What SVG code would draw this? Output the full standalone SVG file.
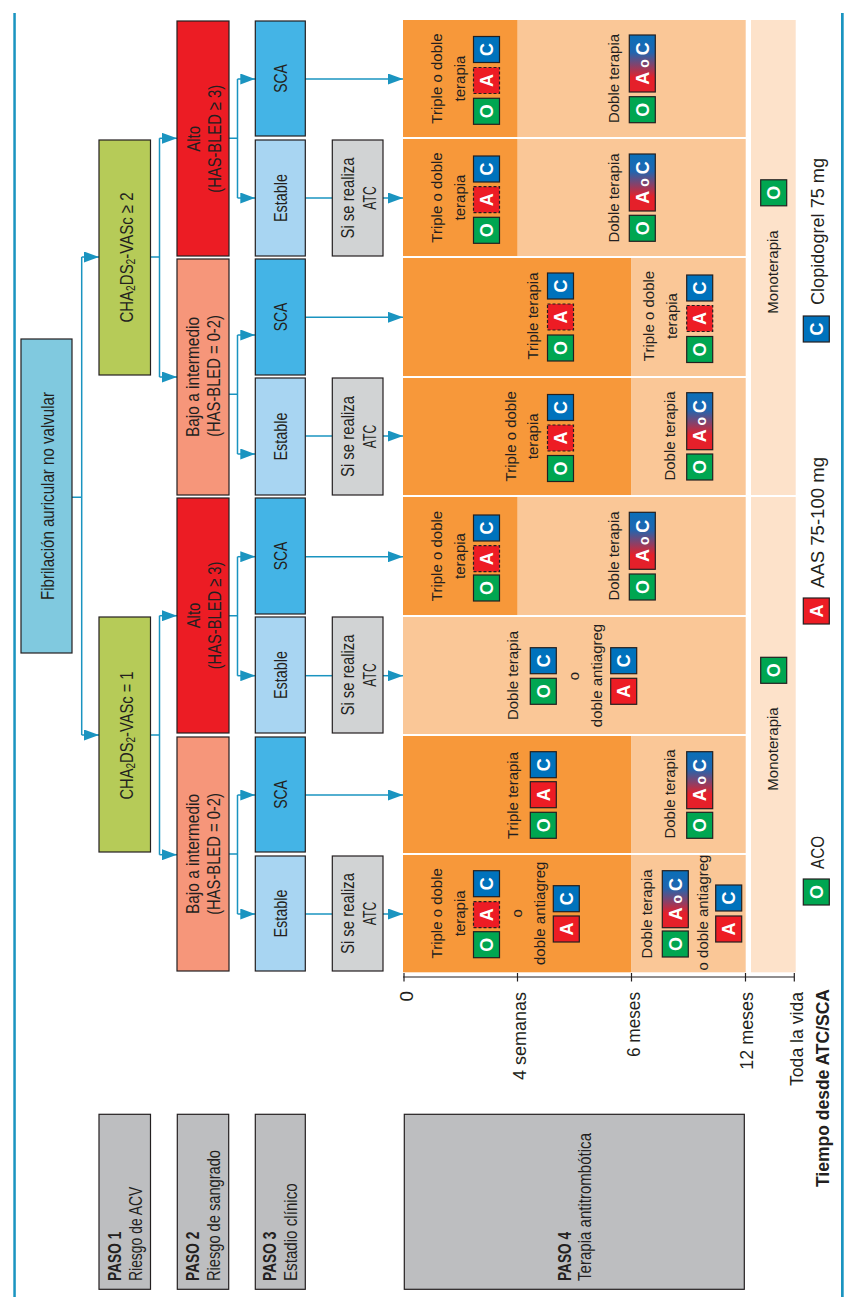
<svg xmlns="http://www.w3.org/2000/svg" width="856" height="1297" viewBox="0 0 856 1297">
<style>
.box{stroke:#231f20;stroke-width:1.2}
.lbl{font-family:"Liberation Sans",Arial,sans-serif;font-size:19px;fill:#231f20}
.m{text-anchor:middle}
.e{text-anchor:end}
.th{font-family:"Liberation Sans",Arial,sans-serif;font-size:15px;fill:#231f20;text-anchor:middle}
.bl{font-family:"Liberation Sans",Arial,sans-serif;font-size:18px;font-weight:bold;fill:#fff;text-anchor:middle}
.con{fill:none;stroke:#1a94c0;stroke-width:1.5}
.arr{marker-end:url(#ah)}
.bO{fill:#00a651;stroke:#231f20;stroke-width:1.2}
.bA{fill:#ed1c24;stroke:#231f20;stroke-width:1.2}
.bAd{fill:#ed1c24;stroke:#231f20;stroke-width:1.2;stroke-dasharray:3 2}
.bC{fill:#0072bc;stroke:#231f20;stroke-width:1.2}
.bAC{fill:url(#gAC);stroke:#231f20;stroke-width:1.2}
.dk{fill:#f7983a}
.lt{fill:#fac797}
.mono{fill:#fde2ca}
.b{font-weight:bold}
</style>
<defs>
<marker id="ah" markerUnits="userSpaceOnUse" markerWidth="15" markerHeight="11" refX="15" refY="5.5" orient="auto"><path d="M0,0 L15,5.5 L0,11 z" fill="#1a94c0"/></marker>
<linearGradient id="gAC" x1="0" y1="0" x2="0" y2="1"><stop offset="0" stop-color="#0a6fb8"/><stop offset="0.3" stop-color="#1f66b0"/><stop offset="0.75" stop-color="#e5202a"/><stop offset="1" stop-color="#e5202a"/></linearGradient>
</defs>
<rect x="0" y="0" width="856" height="1297" fill="#fff"/>
<rect x="13.3" y="13" width="2.5" height="1284" fill="#1a94c0"/>
<rect x="841" y="13" width="2.7" height="1284" fill="#1a94c0"/>

<!-- therapy cells -->
<g id="cells">
<rect class="dk" x="403" y="20" width="114.7" height="117"/><rect class="lt" x="517.7" y="20" width="228" height="117"/>
<rect class="dk" x="403" y="139" width="114.7" height="117"/><rect class="lt" x="517.7" y="139" width="228" height="117"/>
<rect class="dk" x="403" y="258" width="228.5" height="118"/><rect class="lt" x="631.5" y="258" width="114.2" height="118"/>
<rect class="dk" x="403" y="378" width="228.5" height="117"/><rect class="lt" x="631.5" y="378" width="114.2" height="117"/>
<rect class="dk" x="403" y="497" width="114.7" height="118"/><rect class="lt" x="517.7" y="497" width="228" height="118"/>
<rect class="lt" x="403" y="617" width="342.7" height="117"/>
<rect class="dk" x="403" y="736" width="228.5" height="117"/><rect class="lt" x="631.5" y="736" width="114.2" height="117"/>
<rect class="dk" x="403" y="855" width="228.5" height="117.3"/><rect class="lt" x="631.5" y="855" width="114.2" height="117.3"/>
<rect class="mono" x="751" y="20" width="44.7" height="475"/>
<rect class="mono" x="751" y="497" width="44.7" height="475.3"/>
</g>

<!-- connectors -->
<g id="connectors">
<path class="con" d="M72 497.3 H81.7 M81.7 257 V735"/>
<path class="con arr" d="M81.7 257 H99"/>
<path class="con arr" d="M81.7 735 H99"/>
<path class="con" d="M150.5 257 H159.5 M159.5 138.3 V377"/>
<path class="con arr" d="M159.5 138.3 H177"/>
<path class="con arr" d="M159.5 377 H177"/>
<path class="con" d="M150.5 735 H159.5 M159.5 615.7 V854.7"/>
<path class="con arr" d="M159.5 615.7 H177"/>
<path class="con arr" d="M159.5 854.7 H177"/>
<path class="con" d="M229 138.3 H237.5 M237.5 79 V198"/>
<path class="con arr" d="M237.5 79 H255.3"/>
<path class="con arr" d="M237.5 198 H255.3"/>
<path class="con" d="M229 394.3 H237.5 M237.5 335 V454"/>
<path class="con arr" d="M237.5 335 H255.3"/>
<path class="con arr" d="M237.5 454 H255.3"/>
<path class="con" d="M229 615.7 H237.5 M237.5 556.7 V675.7"/>
<path class="con arr" d="M237.5 556.7 H255.3"/>
<path class="con arr" d="M237.5 675.7 H255.3"/>
<path class="con" d="M229 854 H237.5 M237.5 795 V914"/>
<path class="con arr" d="M237.5 795 H255.3"/>
<path class="con arr" d="M237.5 914 H255.3"/>
<path class="con arr" d="M305.3 79 H403"/>
<path class="con" d="M305.3 198 H332.3"/><path class="con arr" d="M383 198 H403"/>
<path class="con arr" d="M305.3 317.3 H403"/>
<path class="con" d="M305.3 436 H332.3"/><path class="con arr" d="M383 436 H403"/>
<path class="con arr" d="M305.3 556.7 H403"/>
<path class="con" d="M305.3 675.7 H332.3"/><path class="con arr" d="M383 675.7 H403"/>
<path class="con arr" d="M305.3 795 H403"/>
<path class="con" d="M305.3 914 H332.3"/><path class="con arr" d="M383 914 H403"/>
</g>

<!-- decision nodes -->
<g id="fib"><rect class="box" x="21" y="339" width="51" height="314" fill="#80c9df"/>
<text class="lbl m" transform="translate(53.5 496) rotate(-90)" textLength="208" lengthAdjust="spacingAndGlyphs">Fibrilación auricular no valvular</text></g>

<g id="cha2"><rect class="box" x="99" y="140" width="51.5" height="235" fill="#b6cb58"/>
<text class="lbl m" transform="translate(132.5 257.5) rotate(-90)" textLength="130" lengthAdjust="spacingAndGlyphs">CHA<tspan font-size="13" dy="2">2</tspan><tspan dy="-2">DS</tspan><tspan font-size="13" dy="2">2</tspan><tspan dy="-2">-VASc ≥ 2</tspan></text></g>
<g id="cha1"><rect class="box" x="99" y="617" width="51.5" height="235" fill="#b6cb58"/>
<text class="lbl m" transform="translate(132.5 735.5) rotate(-90)" textLength="128" lengthAdjust="spacingAndGlyphs">CHA<tspan font-size="13" dy="2">2</tspan><tspan dy="-2">DS</tspan><tspan font-size="13" dy="2">2</tspan><tspan dy="-2">-VASc = 1</tspan></text></g>

<g id="alto2"><rect class="box" x="177" y="21" width="52" height="235" fill="#ec1c24"/>
<text class="lbl m" transform="translate(199.5 138.8) rotate(-90)" textLength="25.7" lengthAdjust="spacingAndGlyphs">Alto</text>
<text class="lbl m" transform="translate(220.5 138.8) rotate(-90)" textLength="107.7" lengthAdjust="spacingAndGlyphs">(HAS-BLED ≥ 3)</text></g>
<g id="bajo2"><rect class="box" x="177" y="259" width="52" height="236" fill="#f6967a"/>
<text class="lbl m" transform="translate(199 377) rotate(-90)" textLength="120" lengthAdjust="spacingAndGlyphs">Bajo a intermedio</text>
<text class="lbl m" transform="translate(220 376) rotate(-90)" textLength="121.7" lengthAdjust="spacingAndGlyphs">(HAS-BLED = 0-2)</text></g>
<g id="alto1"><rect class="box" x="177" y="498" width="52" height="235" fill="#ec1c24"/>
<text class="lbl m" transform="translate(199.5 615.5) rotate(-90)" textLength="25.7" lengthAdjust="spacingAndGlyphs">Alto</text>
<text class="lbl m" transform="translate(220.5 615.5) rotate(-90)" textLength="107.7" lengthAdjust="spacingAndGlyphs">(HAS-BLED ≥ 3)</text></g>
<g id="bajo1"><rect class="box" x="177" y="737" width="52" height="234" fill="#f6967a"/>
<text class="lbl m" transform="translate(199 854) rotate(-90)" textLength="120" lengthAdjust="spacingAndGlyphs">Bajo a intermedio</text>
<text class="lbl m" transform="translate(220 854) rotate(-90)" textLength="121.7" lengthAdjust="spacingAndGlyphs">(HAS-BLED = 0-2)</text></g>

<g id="sca1"><rect class="box" x="255.3" y="21" width="50" height="115" fill="#44b4e6"/>
<text class="lbl m" transform="translate(287 78.5) rotate(-90)" textLength="28.7" lengthAdjust="spacingAndGlyphs">SCA</text></g>
<g id="est1"><rect class="box" x="255.3" y="140" width="50" height="116" fill="#a8d5f2"/>
<text class="lbl m" transform="translate(287 198) rotate(-90)" textLength="48" lengthAdjust="spacingAndGlyphs">Estable</text></g>
<g id="sca2"><rect class="box" x="255.3" y="259" width="50" height="116" fill="#44b4e6"/>
<text class="lbl m" transform="translate(287 317) rotate(-90)" textLength="28.7" lengthAdjust="spacingAndGlyphs">SCA</text></g>
<g id="est2"><rect class="box" x="255.3" y="378" width="50" height="117" fill="#a8d5f2"/>
<text class="lbl m" transform="translate(287 436.5) rotate(-90)" textLength="48" lengthAdjust="spacingAndGlyphs">Estable</text></g>
<g id="sca3"><rect class="box" x="255.3" y="498" width="50" height="116" fill="#44b4e6"/>
<text class="lbl m" transform="translate(287 556) rotate(-90)" textLength="28.7" lengthAdjust="spacingAndGlyphs">SCA</text></g>
<g id="est3"><rect class="box" x="255.3" y="617" width="50" height="116" fill="#a8d5f2"/>
<text class="lbl m" transform="translate(287 675) rotate(-90)" textLength="48" lengthAdjust="spacingAndGlyphs">Estable</text></g>
<g id="sca4"><rect class="box" x="255.3" y="737" width="50" height="115" fill="#44b4e6"/>
<text class="lbl m" transform="translate(287 794.5) rotate(-90)" textLength="28.7" lengthAdjust="spacingAndGlyphs">SCA</text></g>
<g id="est4"><rect class="box" x="255.3" y="856" width="50" height="115" fill="#a8d5f2"/>
<text class="lbl m" transform="translate(287 913.5) rotate(-90)" textLength="48" lengthAdjust="spacingAndGlyphs">Estable</text></g>

<g id="atc1"><rect class="box" x="332.3" y="140" width="50.7" height="116" fill="#d1d3d4"/>
<text class="lbl m" transform="translate(353.5 198) rotate(-90)" textLength="81" lengthAdjust="spacingAndGlyphs">Si se realiza</text>
<text class="lbl m" transform="translate(375.5 198) rotate(-90)" textLength="23.5" lengthAdjust="spacingAndGlyphs">ATC</text></g>
<g id="atc2"><rect class="box" x="332.3" y="378" width="50.7" height="117" fill="#d1d3d4"/>
<text class="lbl m" transform="translate(353.5 436.5) rotate(-90)" textLength="81" lengthAdjust="spacingAndGlyphs">Si se realiza</text>
<text class="lbl m" transform="translate(375.5 436.5) rotate(-90)" textLength="23.5" lengthAdjust="spacingAndGlyphs">ATC</text></g>
<g id="atc3"><rect class="box" x="332.3" y="617" width="50.7" height="116" fill="#d1d3d4"/>
<text class="lbl m" transform="translate(353.5 675) rotate(-90)" textLength="81" lengthAdjust="spacingAndGlyphs">Si se realiza</text>
<text class="lbl m" transform="translate(375.5 675) rotate(-90)" textLength="23.5" lengthAdjust="spacingAndGlyphs">ATC</text></g>
<g id="atc4"><rect class="box" x="332.3" y="856" width="50.7" height="115" fill="#d1d3d4"/>
<text class="lbl m" transform="translate(353.5 913.5) rotate(-90)" textLength="81" lengthAdjust="spacingAndGlyphs">Si se realiza</text>
<text class="lbl m" transform="translate(375.5 913.5) rotate(-90)" textLength="23.5" lengthAdjust="spacingAndGlyphs">ATC</text></g>

<!-- therapy contents -->
<g id="row1">
<text class="th" transform="translate(442 78.5) rotate(-90)">Triple o doble</text>
<text class="th" transform="translate(465 78.5) rotate(-90)">terapia</text>
<rect class="bC" x="473.5" y="36.5" width="26" height="26"/><text class="bl" transform="translate(493 49.5) rotate(-90)">C</text>
<rect class="bAd" x="473.5" y="67.5" width="26" height="26"/><text class="bl" transform="translate(493 80.5) rotate(-90)">A</text>
<rect class="bO" x="473.5" y="98.3" width="26" height="26"/><text class="bl" transform="translate(493 111.3) rotate(-90)">O</text>
<text class="th" transform="translate(618.5 78.5) rotate(-90)">Doble terapia</text>
<rect class="bAC" x="629.3" y="35" width="26" height="57"/><text class="bl" transform="translate(648.8 63.5) rotate(-90)">A<tspan font-size="14"> o </tspan>C</text>
<rect class="bO" x="629.3" y="96.7" width="26" height="26"/><text class="bl" transform="translate(648.8 109.7) rotate(-90)">O</text>
</g>
<g id="row2">
<text class="th" transform="translate(442 197.5) rotate(-90)">Triple o doble</text>
<text class="th" transform="translate(465 197.5) rotate(-90)">terapia</text>
<rect class="bC" x="473.5" y="156" width="26" height="26"/><text class="bl" transform="translate(493 169) rotate(-90)">C</text>
<rect class="bAd" x="473.5" y="186.7" width="26" height="26"/><text class="bl" transform="translate(493 199.7) rotate(-90)">A</text>
<rect class="bO" x="473.5" y="217.3" width="26" height="26"/><text class="bl" transform="translate(493 230.3) rotate(-90)">O</text>
<text class="th" transform="translate(618.5 198) rotate(-90)">Doble terapia</text>
<rect class="bAC" x="629.3" y="154" width="26" height="57"/><text class="bl" transform="translate(648.8 182.5) rotate(-90)">A<tspan font-size="14"> o </tspan>C</text>
<rect class="bO" x="629.3" y="215.3" width="26" height="26"/><text class="bl" transform="translate(648.8 228.3) rotate(-90)">O</text>
</g>
<g id="row3">
<text class="th" transform="translate(537.5 316) rotate(-90)">Triple terapia</text>
<rect class="bC" x="547.5" y="273" width="26" height="26"/><text class="bl" transform="translate(567 286) rotate(-90)">C</text>
<rect class="bAd" x="547.5" y="304" width="26" height="26"/><text class="bl" transform="translate(567 317) rotate(-90)">A</text>
<rect class="bO" x="547.5" y="335" width="26" height="26"/><text class="bl" transform="translate(567 348) rotate(-90)">O</text>
<text class="th" transform="translate(654 316) rotate(-90)">Triple o doble</text>
<text class="th" transform="translate(677 316) rotate(-90)">terapia</text>
<rect class="bC" x="686.7" y="275" width="26" height="26"/><text class="bl" transform="translate(706.2 288) rotate(-90)">C</text>
<rect class="bAd" x="686.7" y="305.5" width="26" height="26"/><text class="bl" transform="translate(706.2 318.5) rotate(-90)">A</text>
<rect class="bO" x="686.7" y="336.5" width="26" height="26"/><text class="bl" transform="translate(706.2 349.5) rotate(-90)">O</text>
</g>
<g id="row4">
<text class="th" transform="translate(515.5 436.3) rotate(-90)">Triple o doble</text>
<text class="th" transform="translate(538 436.3) rotate(-90)">terapia</text>
<rect class="bC" x="547.5" y="394.5" width="26" height="26"/><text class="bl" transform="translate(567 407.5) rotate(-90)">C</text>
<rect class="bAd" x="547.5" y="425" width="26" height="26"/><text class="bl" transform="translate(567 438) rotate(-90)">A</text>
<rect class="bO" x="547.5" y="455.5" width="26" height="26"/><text class="bl" transform="translate(567 468.5) rotate(-90)">O</text>
<text class="th" transform="translate(674.5 436) rotate(-90)">Doble terapia</text>
<rect class="bAC" x="686.7" y="392.7" width="26" height="57"/><text class="bl" transform="translate(706.2 421.2) rotate(-90)">A<tspan font-size="14"> o </tspan>C</text>
<rect class="bO" x="686.7" y="454" width="26" height="26"/><text class="bl" transform="translate(706.2 467) rotate(-90)">O</text>
</g>
<g id="row5">
<text class="th" transform="translate(442 556) rotate(-90)">Triple o doble</text>
<text class="th" transform="translate(465 556) rotate(-90)">terapia</text>
<rect class="bC" x="473.5" y="515" width="26" height="26"/><text class="bl" transform="translate(493 528) rotate(-90)">C</text>
<rect class="bAd" x="473.5" y="545.7" width="26" height="26"/><text class="bl" transform="translate(493 558.7) rotate(-90)">A</text>
<rect class="bO" x="473.5" y="575" width="26" height="26"/><text class="bl" transform="translate(493 588) rotate(-90)">O</text>
<text class="th" transform="translate(618.5 556) rotate(-90)">Doble terapia</text>
<rect class="bAC" x="629.3" y="512.3" width="26" height="57"/><text class="bl" transform="translate(648.8 540.8) rotate(-90)">A<tspan font-size="14"> o </tspan>C</text>
<rect class="bO" x="629.3" y="574" width="26" height="26"/><text class="bl" transform="translate(648.8 587) rotate(-90)">O</text>
</g>
<g id="row6">
<text class="th" transform="translate(518.3 675.5) rotate(-90)">Doble terapia</text>
<rect class="bC" x="530.3" y="647.7" width="26" height="26"/><text class="bl" transform="translate(549.8 660.7) rotate(-90)">C</text>
<rect class="bO" x="530.3" y="678.3" width="26" height="26"/><text class="bl" transform="translate(549.8 691.3) rotate(-90)">O</text>
<text class="th" transform="translate(579.3 676) rotate(-90)">o</text>
<text class="th" transform="translate(601.5 675.5) rotate(-90)">doble antiagreg</text>
<rect class="bC" x="610.7" y="647.7" width="26" height="26"/><text class="bl" transform="translate(630.2 660.7) rotate(-90)">C</text>
<rect class="bA" x="610.7" y="678.3" width="26" height="26"/><text class="bl" transform="translate(630.2 691.3) rotate(-90)">A</text>
</g>
<g id="row7">
<text class="th" transform="translate(518 795.5) rotate(-90)">Triple terapia</text>
<rect class="bC" x="530.3" y="751.7" width="26" height="26"/><text class="bl" transform="translate(549.8 764.7) rotate(-90)">C</text>
<rect class="bA" x="530.3" y="781.7" width="26" height="26"/><text class="bl" transform="translate(549.8 794.7) rotate(-90)">A</text>
<rect class="bO" x="530.3" y="812.3" width="26" height="26"/><text class="bl" transform="translate(549.8 825.3) rotate(-90)">O</text>
<text class="th" transform="translate(674.5 794) rotate(-90)">Doble terapia</text>
<rect class="bAC" x="686.7" y="751.7" width="26" height="57"/><text class="bl" transform="translate(706.2 780.2) rotate(-90)">A<tspan font-size="14"> o </tspan>C</text>
<rect class="bO" x="686.7" y="812.3" width="26" height="26"/><text class="bl" transform="translate(706.2 825.3) rotate(-90)">O</text>
</g>
<g id="row8">
<text class="th" transform="translate(442 913.3) rotate(-90)">Triple o doble</text>
<text class="th" transform="translate(465 913.3) rotate(-90)">terapia</text>
<rect class="bC" x="473.5" y="870.7" width="26" height="26"/><text class="bl" transform="translate(493 883.7) rotate(-90)">C</text>
<rect class="bAd" x="473.5" y="901.7" width="26" height="26"/><text class="bl" transform="translate(493 914.7) rotate(-90)">A</text>
<rect class="bO" x="473.5" y="931.7" width="26" height="26"/><text class="bl" transform="translate(493 944.7) rotate(-90)">O</text>
<text class="th" transform="translate(521.7 913.3) rotate(-90)">o</text>
<text class="th" transform="translate(544.5 913.3) rotate(-90)">doble antiagreg</text>
<rect class="bC" x="553.3" y="885.7" width="26" height="26"/><text class="bl" transform="translate(572.8 898.7) rotate(-90)">C</text>
<rect class="bA" x="553.3" y="916" width="26" height="26"/><text class="bl" transform="translate(572.8 929) rotate(-90)">A</text>
<text class="th" transform="translate(651.5 914) rotate(-90)">Doble terapia</text>
<rect class="bAC" x="662.3" y="870.7" width="26" height="57"/><text class="bl" transform="translate(681.8 899.2) rotate(-90)">A<tspan font-size="14"> o </tspan>C</text>
<rect class="bO" x="662.3" y="931" width="26" height="26"/><text class="bl" transform="translate(681.8 944) rotate(-90)">O</text>
<text class="th" transform="translate(708.3 912.5) rotate(-90)">o doble antiagreg</text>
<rect class="bC" x="715.7" y="885" width="26" height="26"/><text class="bl" transform="translate(735.2 898) rotate(-90)">C</text>
<rect class="bA" x="715.7" y="916" width="26" height="26"/><text class="bl" transform="translate(735.2 929) rotate(-90)">A</text>
</g>
<g id="mono">
<text class="th" transform="translate(777.5 272) rotate(-90)">Monoterapia</text>
<rect class="bO" x="760.7" y="179.8" width="26" height="26"/><text class="bl" transform="translate(780.2 192.8) rotate(-90)">O</text>
<text class="th" transform="translate(777.5 749) rotate(-90)">Monoterapia</text>
<rect class="bO" x="760.7" y="657.3" width="26" height="26"/><text class="bl" transform="translate(780.2 670.3) rotate(-90)">O</text>
</g>

<!-- legend -->
<g id="legend">
<rect class="bO" x="803.3" y="879" width="26" height="26"/><text class="bl" transform="translate(822.8 892) rotate(-90)">O</text>
<text class="lbl" font-size="21.5" transform="translate(824 869) rotate(-90)" textLength="33" lengthAdjust="spacingAndGlyphs">ACO</text>
<rect class="bA" x="803.3" y="598" width="26" height="26"/><text class="bl" transform="translate(822.8 611) rotate(-90)">A</text>
<text class="lbl" font-size="21.5" transform="translate(824 588) rotate(-90)" textLength="131" lengthAdjust="spacingAndGlyphs">AAS 75-100 mg</text>
<rect class="bC" x="803.3" y="316" width="26" height="26"/><text class="bl" transform="translate(822.8 329) rotate(-90)">C</text>
<text class="lbl" font-size="21.5" transform="translate(824 305) rotate(-90)" textLength="147" lengthAdjust="spacingAndGlyphs">Clopidogrel 75 mg</text>
</g>

<!-- time axis -->
<g id="axis">
<path d="M403 977 H794.5 M404 973 V981.5 M517.5 973 V981.5 M631.5 973 V981.5 M745.5 973 V981.5 M794.3 973 V981.5" fill="none" stroke="#231f20" stroke-width="1.2"/>
<text class="lbl e" font-size="20" transform="translate(413 991) rotate(-90)">0</text>
<text class="lbl e" font-size="20" transform="translate(526 992) rotate(-90)" textLength="88" lengthAdjust="spacingAndGlyphs">4 semanas</text>
<text class="lbl e" font-size="20" transform="translate(640 992) rotate(-90)" textLength="65" lengthAdjust="spacingAndGlyphs">6 meses</text>
<text class="lbl e" font-size="20" transform="translate(753 992) rotate(-90)" textLength="77.7" lengthAdjust="spacingAndGlyphs">12 meses</text>
<text class="lbl e" font-size="20" transform="translate(803 992) rotate(-90)" textLength="94" lengthAdjust="spacingAndGlyphs">Toda la vida</text>
<text class="lbl e b" font-size="18" transform="translate(829 989) rotate(-90)" textLength="198" lengthAdjust="spacingAndGlyphs">Tiempo desde ATC/SCA</text>
</g>

<!-- steps -->
<g id="paso1"><rect class="box" x="99" y="1114.3" width="51.5" height="175" fill="#bdbec0"/>
<text class="lbl b" transform="translate(120.7 1281) rotate(-90)" textLength="49.3" lengthAdjust="spacingAndGlyphs">PASO 1</text>
<text class="lbl" transform="translate(141.5 1281) rotate(-90)" textLength="94.3" lengthAdjust="spacingAndGlyphs">Riesgo de ACV</text></g>
<g id="paso2"><rect class="box" x="177.3" y="1114.3" width="51.4" height="175" fill="#bdbec0"/>
<text class="lbl b" transform="translate(199 1281) rotate(-90)" textLength="49.3" lengthAdjust="spacingAndGlyphs">PASO 2</text>
<text class="lbl" transform="translate(219.5 1281) rotate(-90)" textLength="131" lengthAdjust="spacingAndGlyphs">Riesgo de sangrado</text></g>
<g id="paso3"><rect class="box" x="255.3" y="1114.3" width="50" height="175" fill="#bdbec0"/>
<text class="lbl b" transform="translate(275.7 1281) rotate(-90)" textLength="49.3" lengthAdjust="spacingAndGlyphs">PASO 3</text>
<text class="lbl" transform="translate(297 1281) rotate(-90)" textLength="97.7" lengthAdjust="spacingAndGlyphs">Estadio clínico</text></g>
<g id="paso4"><rect class="box" x="404.3" y="1114.3" width="340" height="175" fill="#bdbec0"/>
<text class="lbl b" transform="translate(570.7 1281) rotate(-90)" textLength="49" lengthAdjust="spacingAndGlyphs">PASO 4</text>
<text class="lbl" transform="translate(590.5 1281) rotate(-90)" textLength="148" lengthAdjust="spacingAndGlyphs">Terapia antitrombótica</text></g>
</svg>
